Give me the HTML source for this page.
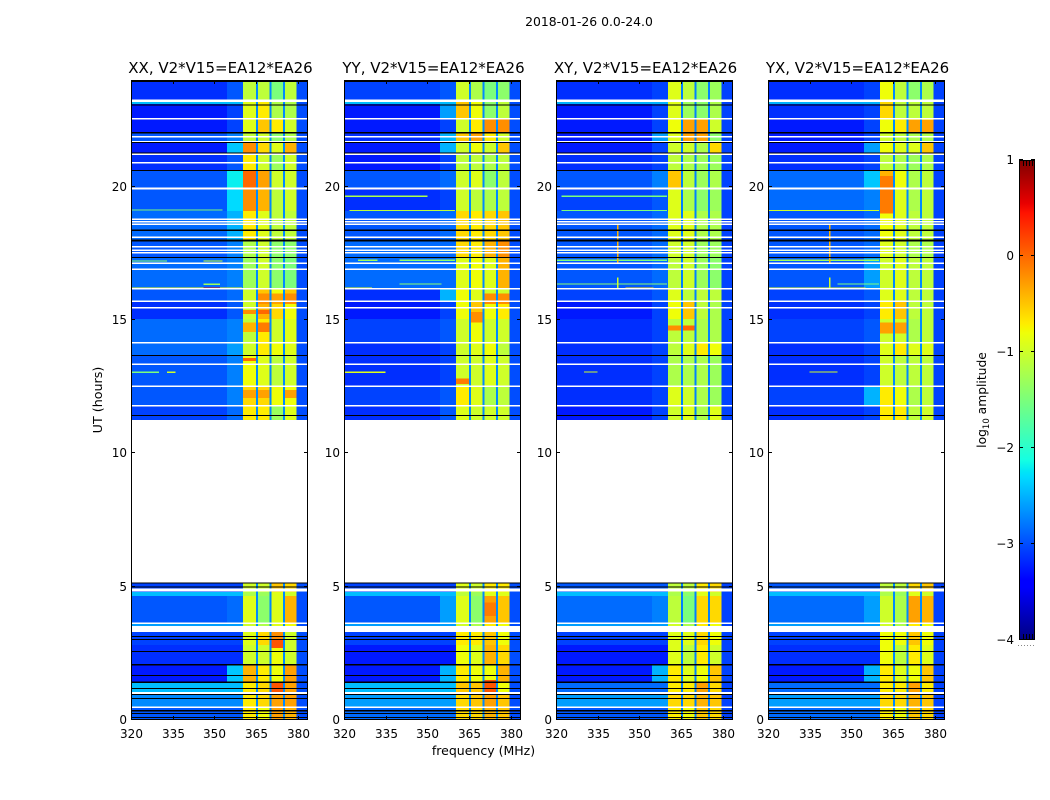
<!DOCTYPE html>
<html lang="en">
<head>
<meta charset="utf-8">
<title>2018-01-26 0.0-24.0</title>
<style>
html,body{margin:0;padding:0;background:#fff;width:1050px;height:800px;overflow:hidden}
svg{display:block;font-family:"DejaVu Sans","Liberation Sans",sans-serif;fill:#000}
</style>
</head>
<body>
<svg id="fig" xmlns="http://www.w3.org/2000/svg" width="1050" height="800" viewBox="0 0 1050 800">
<text x="589" y="26" text-anchor="middle" font-size="12.4">2018-01-26 0.0-24.0</text>
<text x="483.5" y="755" text-anchor="middle" font-size="12.5">frequency (MHz)</text>
<text transform="translate(102,400) rotate(-90)" text-anchor="middle" font-size="12.7">UT (hours)</text>
<text transform="translate(986,400) rotate(-90)" text-anchor="middle" font-size="12.3">log<tspan font-size="8.5" dy="3">10</tspan><tspan dy="-3"> amplitude</tspan></text>
</svg>
<script>
// Panel titles and axes
const panelTitles = ["XX, V2*V15=EA12*EA26", "YY, V2*V15=EA12*EA26", "XY, V2*V15=EA12*EA26", "YX, V2*V15=EA12*EA26"];
const xTickValues = [320, 335, 350, 365, 380];
const yTickValues = [0, 5, 10, 15, 20];
const colorbarTicks = [1, 0, -1, -2, -3, -4];
const freqMin = 320, freqMax = 383.67, hourMin = 0, hourMax = 24, levelMin = -4, levelMax = 1;

// Heatmap rows in UT hours (top edge, bottom edge)
const rowTops = [24, 23.25, 23.10, 22.54, 22.01, 21.68, 21.23, 20.63, 19.91, 19.09, 17.96, 17.33, 16.16, 15.68, 15.04, 14.14, 13.65, 12.49, 11.78,
  5.14, 4.80, 4.65, 3.64, 3.30, 2.81, 2.06, 1.43, 1.01, 0.49];
const rowBottoms = [23.25, 23.10, 22.54, 22.01, 21.68, 21.23, 20.63, 19.91, 19.09, 17.96, 17.33, 16.16, 15.68, 15.04, 14.14, 13.65, 12.49, 11.78, 11.25,
  4.80, 4.65, 3.64, 3.30, 2.81, 2.06, 1.43, 1.01, 0.49, 0];

// Frequency columns in MHz: background, glow, bands A/B/C/D and the gaps between them, upper edge
const bgFreqs = [320, 354.5];
const glowFreqs = [354.5, 360.3];
const bandFreqs = [[360.3, 364.9], [365.6, 369.8], [370.5, 374.7], [375.4, 379.5]];
const gapFreqs = [[364.9, 365.6], [369.8, 370.5], [374.7, 375.4]];
const edgeFreqs = [379.5, 383.67];
const gapLevels = [-2.7, -2.7, -2.75, -2.7];
const edgeLevels = [-3.0, -3.0, -3.05, -3.05];

// log10 amplitude per row: [background, glow, A, B, C, D]
const xxLevels = [
[-3.15,-2.95,-1.1,-1.1,-1.5,-1.1],[-2.45,-2.45,-0.9,-0.7,-1.2,-1.2],[-3.25,-3.05,-0.9,-0.7,-1.2,-1.2],[-3.25,-3.05,-0.9,-0.5,-0.7,-1.0],
[-2.95,-2.75,-1.1,-1.0,-1.4,-1.2],[-3.25,-2.4,-0.2,-0.6,-0.9,-0.4],[-3.15,-2.95,-0.7,-1.0,-1.3,-1.0],[-2.95,-2.2,0.0,-0.3,-1.0,-1.0],
[-2.95,-2.3,-0.2,-0.4,-1.1,-1.0],[-2.85,-2.5,-0.7,-0.9,-1.1,-1.1],[-2.95,-2.75,-1.2,-1.0,-1.4,-1.4],[-2.85,-2.75,-1.3,-1.0,-1.4,-1.5],
[-2.95,-2.85,-1.0,-0.5,-0.8,-0.5],[-3.15,-2.95,-1.0,-0.4,-0.6,-0.8],[-2.85,-2.75,-1.1,-0.7,-1.0,-0.9],[-2.85,-2.6,-1.0,-0.7,-0.8,-0.9],
[-2.95,-2.75,-0.8,-0.9,-1.1,-1.0],[-2.95,-2.75,-0.6,-0.6,-0.8,-0.8],[-3.05,-2.85,-0.7,-0.7,-1.3,-0.9],
[-3.05,-3.05,-1.0,-1.0,-0.5,-0.6],[-2.45,-2.45,-1.2,-1.3,-0.9,-1.0],[-2.95,-2.85,-0.9,-1.4,-0.9,-0.4],[-2.6,-2.6,-1.0,-1.2,-0.9,-0.8],
[-3.05,-3.05,-0.9,-0.6,-0.2,-1.0],[-3.15,-3.15,-1.0,-1.0,-0.8,-1.0],[-3.25,-2.4,-0.4,-0.7,-0.8,-0.3],[-2.45,-2.45,-0.7,-0.6,0.1,-0.3],
[-2.7,-2.7,-0.7,-0.6,-0.3,-0.3],[-2.95,-2.95,-0.7,-0.8,-0.3,-0.4]];
const yyLevels = [
[-3.05,-2.95,-1.0,-1.2,-1.5,-1.4],[-2.45,-2.45,-0.5,-0.8,-1.4,-1.1],[-3.25,-2.6,-0.5,-0.8,-1.4,-1.1],[-3.25,-3.05,-1.0,-0.7,-0.2,-0.2],
[-3.15,-2.5,-0.5,-0.3,-0.7,-1.0],[-3.25,-2.5,-1.0,-0.8,-1.0,-0.5],[-3.25,-3.05,-1.1,-1.1,-1.2,-1.1],[-2.95,-2.85,-1.0,-0.9,-1.4,-1.1],
[-3.15,-3.05,-1.0,-1.1,-1.2,-1.1],[-2.95,-2.85,-0.6,-0.7,-0.6,-0.5],[-2.85,-2.85,-0.6,-0.7,-0.4,-0.2],[-2.85,-2.85,-0.9,-0.8,-0.9,-0.4],
[-3.15,-2.5,-0.8,-0.9,-1.0,-1.0],[-3.25,-3.05,-0.8,-0.5,-0.8,-0.7],[-3.05,-2.95,-1.0,-0.8,-1.0,-1.0],[-3.15,-3.05,-1.0,-0.9,-0.8,-1.1],
[-3.15,-3.05,-1.0,-1.0,-0.9,-1.0],[-3.05,-2.95,-0.7,-0.9,-1.2,-1.1],[-3.15,-2.95,-0.9,-1.0,-1.0,-1.0],
[-3.05,-3.05,-0.9,-1.0,-0.7,-0.7],[-2.45,-2.45,-1.1,-1.3,-0.9,-0.9],[-2.95,-2.6,-0.9,-1.4,-0.3,-0.5],[-2.6,-2.6,-1.0,-1.2,-0.7,-0.8],
[-3.05,-3.05,-0.7,-0.7,-0.5,-0.8],[-3.25,-3.25,-0.8,-0.9,-0.4,-0.6],[-3.25,-2.5,-0.7,-0.8,-0.8,-0.4],[-2.45,-2.45,-0.5,-0.5,-0.2,-0.8],
[-2.6,-2.6,-0.6,-0.5,-0.3,-0.5],[-2.85,-2.85,-0.6,-0.6,-0.4,-0.5]];
const xyLevels = [
[-3.15,-3.05,-0.9,-1.1,-1.4,-1.3],[-2.5,-2.5,-0.9,-1.3,-1.4,-1.2],[-3.25,-3.05,-0.9,-1.3,-1.4,-1.2],[-3.25,-3.05,-0.8,-0.4,-0.5,-1.0],
[-3.25,-2.6,-0.9,-1.2,-1.4,-1.4],[-3.25,-3.05,-1.0,-1.0,-1.2,-0.6],[-3.15,-3.05,-1.1,-1.2,-1.3,-1.3],[-2.95,-2.75,-0.5,-1.1,-1.3,-1.2],
[-3.05,-2.95,-0.9,-1.2,-1.4,-1.3],[-2.95,-2.85,-0.9,-0.9,-1.2,-1.2],[-2.95,-2.85,-1.0,-1.0,-1.3,-1.3],[-2.95,-2.85,-1.1,-1.0,-1.3,-1.4],
[-3.05,-2.95,-0.9,-1.1,-1.1,-1.1],[-3.25,-3.05,-0.8,-0.5,-1.1,-1.2],[-3.15,-3.05,-1.1,-1.1,-1.2,-1.2],[-3.15,-3.05,-1.1,-0.9,-0.7,-0.8],
[-3.15,-3.05,-1.2,-1.2,-1.2,-1.3],[-3.15,-3.05,-0.9,-1.0,-1.2,-1.3],[-3.25,-3.05,-1.0,-0.9,-1.2,-0.9],
[-2.95,-2.95,-1.1,-1.1,-0.7,-0.6],[-2.45,-2.45,-1.2,-1.4,-0.9,-1.0],[-2.85,-2.75,-1.1,-1.5,-0.6,-0.6],[-2.6,-2.6,-1.0,-1.2,-0.7,-0.8],
[-3.05,-3.05,-0.9,-0.9,-0.6,-0.8],[-3.25,-3.25,-0.9,-1.1,-0.7,-1.0],[-3.25,-2.5,-0.7,-0.9,-0.8,-0.5],[-2.85,-2.85,-0.7,-0.7,-0.3,-0.6],
[-2.6,-2.6,-0.6,-0.6,-0.4,-0.5],[-2.95,-2.95,-0.7,-0.8,-0.5,-0.6]];
const yxLevels = [
[-3.15,-3.05,-0.8,-1.1,-1.4,-1.2],[-2.5,-2.5,-0.6,-1.1,-1.1,-1.1],[-3.15,-3.05,-0.6,-1.1,-1.1,-1.1],[-3.25,-3.05,-0.8,-0.7,-0.5,-0.6],
[-3.25,-3.05,-1.0,-1.1,-1.2,-1.2],[-3.25,-2.6,-0.8,-0.9,-0.9,-0.5],[-3.15,-3.05,-1.1,-1.2,-1.3,-1.2],[-2.85,-2.4,-0.4,-0.8,-1.2,-1.1],
[-2.85,-2.75,-0.6,-0.9,-1.2,-1.1],[-2.95,-2.85,-0.8,-0.9,-1.1,-1.1],[-2.95,-2.85,-0.9,-1.0,-1.2,-1.2],[-2.95,-2.6,-1.0,-0.9,-1.1,-1.1],
[-3.05,-2.95,-0.9,-0.9,-1.1,-1.1],[-3.15,-3.05,-0.7,-0.5,-1.1,-1.1],[-3.05,-2.95,-1.0,-1.0,-1.2,-1.1],[-3.15,-3.05,-0.9,-0.7,-0.9,-0.9],
[-3.15,-3.05,-1.0,-1.1,-1.1,-1.1],[-3.05,-2.5,-0.7,-0.8,-1.2,-1.1],[-3.15,-3.05,-0.7,-0.7,-1.1,-1.0],
[-2.95,-2.95,-1.1,-1.1,-0.6,-0.5],[-2.45,-2.45,-1.2,-1.3,-0.9,-1.0],[-2.85,-2.6,-1.0,-1.2,-0.3,-0.4],[-2.6,-2.6,-1.0,-1.2,-0.7,-0.8],
[-3.05,-3.05,-0.8,-0.8,-0.5,-0.8],[-3.15,-3.15,-0.8,-1.1,-0.7,-0.9],[-3.25,-2.5,-0.7,-0.9,-0.8,-0.5],[-2.85,-2.85,-0.7,-0.7,-0.3,-0.7],
[-2.6,-2.6,-0.6,-0.6,-0.4,-0.5],[-2.85,-2.85,-0.7,-0.8,-0.5,-0.6]];
const panelLevels = [xxLevels, yyLevels, xyLevels, yxLevels];

// Bright patches inside the bands: [band index, top hour, bottom hour, log10 amplitude]
const xxPatches = [[0,15.37,15.22,-0.2],[1,15.37,15.22,0.0],[1,16.0,15.6,-0.2],[2,16.0,15.6,-0.3],[3,16.0,15.6,-0.2],[1,14.9,14.55,-0.1],[0,14.9,14.55,-0.4],[0,13.57,13.46,0.0],[0,12.37,12.07,-0.3],[1,12.37,12.07,-0.3],[3,12.37,12.07,-0.3],[2,3.0,2.7,0.1]];
const yyPatches = [[2,16.0,15.6,-0.2],[3,16.0,15.6,-0.2],[1,15.3,14.9,-0.2],[0,12.8,12.6,-0.1],[2,4.4,3.9,-0.1],[2,1.5,1.0,0.1]];
const xyPatches = [[0,14.8,14.6,-0.2],[1,14.8,14.6,0.0],[1,22.5,21.7,-0.3],[2,22.5,21.7,-0.3]];
const yxPatches = [[0,20.4,19.0,-0.1],[0,14.9,14.5,-0.3],[1,14.9,14.5,-0.3],[2,22.5,22.0,-0.3],[3,22.5,22.0,-0.3]];
const panelPatches = [xxPatches, yyPatches, xyPatches, yxPatches];

// Narrow-band interference: [hour, start MHz, end MHz, log10 amplitude]
const xxRfi = [[19.12,320,353,-1.5],[17.22,320,333,-1.4],[17.22,346,353,-1.0],[16.34,346,352,-1.3],[16.19,320,360,-0.8],[16.19,346,352,0.5],[13.04,320,330,-1.5],[13.04,333,336,-1.0]];
const yyRfi = [[19.64,320,350,-1.2],[19.11,322,360,-1.1],[17.24,325,332,-1.3],[17.24,340,360,-1.4],[16.35,340,355,-1.4],[16.19,320,330,-0.8],[13.04,320,335,-0.9]];
const xyRfi = [[19.64,322,360,-1.5],[19.11,322,360,-1.5],[17.24,320,360,-1.5],[16.35,320,360,-1.4],[16.19,345,355,-0.6],[13.05,330,335,-1.0]];
const yxRfi = [[19.11,320,360,-1.0],[17.24,320,360,-1.3],[16.35,345,360,-1.5],[16.19,320,355,-0.9],[13.05,335,345,-1.0]];
const panelRfi = [xxRfi, yyRfi, xyRfi, yxRfi];

// Vertical spike: [MHz, top hour, bottom hour, log10 amplitude]
const xxSpikes = [];
const yySpikes = [];
const xySpikes = [[342.2,18.6,17.1,-0.4],[342.2,16.6,16.2,-1.0]];
const yxSpikes = [[342.2,18.6,17.1,-0.4],[342.2,16.6,16.2,-1.0]];
const panelSpikes = [xxSpikes, yySpikes, xySpikes, yxSpikes];

// Rows with flagged data (white) and zeroed data (black): [top hour, bottom hour]
const flaggedHours = [[23.27,23.175],[22.575,22.52],[21.90,21.84],[21.71,21.66],[21.24,21.19],[20.925,20.87],[19.97,19.89],[18.81,18.75],[18.71,18.66],[18.62,18.56],[18.13,18.08],[17.775,17.72],[17.64,17.59],[17.55,17.49],[17.16,17.10],[16.93,16.88],[16.2,16.14],[15.73,15.68],[15.49,15.43],[14.175,14.12],[13.37,13.31],[12.54,12.49],[11.81,11.76],[4.93,4.82],[3.66,3.60],[3.525,3.30],[1.05,0.975],[0.51,0.45]];
const zeroedHours = [[23.96,23.93],[23.08,23.04],[22.05,22.0],[21.68,21.64],[21.28,21.24],[20.63,20.59],[18.39,18.34],[18.02,17.94],[17.36,17.33],[13.69,13.65],[11.44,11.40],[5.16,5.12],[5.01,4.97],[3.15,3.11],[3.04,3.0],[2.59,2.55],[2.10,2.04],[1.69,1.65],[1.44,1.39],[1.2,1.16],[0.975,0.94],[0.825,0.79],[0.375,0.32],[0.26,0.225],[0.11,0.075]];

// Layout
const panelLefts = [131, 344, 556, 768];
const panelWidth = 177, plotTop = 80, plotHeight = 640;
const NS = "http://www.w3.org/2000/svg";
const fig = document.getElementById("fig");

function y(h) { return plotTop + plotHeight * (hourMax - h) / (hourMax - hourMin); }
function x(f, p) { return panelLefts[p] + panelWidth * (f - freqMin) / (freqMax - freqMin); }
function lerp(stops, t) {
  for (let i = 1; i < stops.length; i++) {
    if (t <= stops[i][0]) {
      const a = stops[i - 1], b = stops[i];
      return a[1] + (b[1] - a[1]) * (t - a[0]) / (b[0] - a[0]);
    }
  }
  return stops[stops.length - 1][1];
}
const jetR = [[0,0],[0.35,0],[0.66,1],[0.89,1],[1,0.5]];
const jetG = [[0,0],[0.125,0],[0.375,1],[0.64,1],[0.91,0],[1,0]];
const jetB = [[0,0.5],[0.11,1],[0.34,1],[0.65,0],[1,0]];
function jet(t) {
  t = Math.max(0, Math.min(1, t));
  return "rgb(" + Math.round(lerp(jetR, t) * 255) + "," + Math.round(lerp(jetG, t) * 255) + "," + Math.round(lerp(jetB, t) * 255) + ")";
}
function color(v) { return jet((v - levelMin) / (levelMax - levelMin)); }
function make(tag, attrs, parent) {
  const el = document.createElementNS(NS, tag);
  for (const k in attrs) el.setAttribute(k, attrs[k]);
  parent.appendChild(el);
  return el;
}
function cell(parent, p, f0, f1, h0, h1, fill) {
  const px0 = x(f0, p), px1 = x(f1, p), py0 = y(h0), py1 = y(h1);
  return make("rect", { x: px0.toFixed(2), y: py0.toFixed(2), width: Math.max(px1 - px0, 0.6).toFixed(2), height: Math.max(py1 - py0, 0.6).toFixed(2), fill: fill, "shape-rendering": "crispEdges" }, parent);
}

panelTitles.forEach(function (title, p) {
  const g = make("g", {}, fig);
  
  
  const cells = make("g", {}, g);
  
  
  panelLevels[p].forEach(function (row, r) {
    const t = rowTops[r], b = rowBottoms[r];
    cell(cells, p, bgFreqs[0], bgFreqs[1], t, b, color(row[0]));
    cell(cells, p, glowFreqs[0], glowFreqs[1], t, b, color(row[1]));
    bandFreqs.forEach(function (fr, i) { cell(cells, p, fr[0], fr[1], t, b, color(row[2 + i])); });
    cell(cells, p, edgeFreqs[0], edgeFreqs[1], t, b, color(edgeLevels[p]));
  });
  panelPatches[p].forEach(function (d) {
    const m = cell(cells, p, bandFreqs[d[0]][0], bandFreqs[d[0]][1], d[1], d[2], color(d[3]));
    
    
  });
  panelLevels[p].forEach(function (row, r) {
    gapFreqs.forEach(function (fr) {
      const m = cell(cells, p, fr[0], fr[1], rowTops[r], rowBottoms[r], color(gapLevels[p]));
      
      
    });
  });
  panelRfi[p].forEach(function (d) {
    const m = cell(cells, p, d[1], d[2], d[0] + 0.02, d[0] - 0.02, color(d[3]));
    
    
  });
  panelSpikes[p].forEach(function (d) {
    const m = cell(cells, p, d[0] - 0.2, d[0] + 0.2, d[1], d[2], color(d[3]));
    
    
  });
  flaggedHours.forEach(function (d) {
    const m = cell(cells, p, freqMin, freqMax, d[0], d[1], "#fff");
    
    
  });
  zeroedHours.forEach(function (d) {
    const m = cell(cells, p, freqMin, freqMax, d[0], d[1], "#000");
    
    
  });

  const left = panelLefts[p], right = left + panelWidth;
  const frame = make("rect", { x: left + 0.5, y: plotTop + 0.5, width: panelWidth - 1, height: plotHeight - 1, fill: "none", stroke: "#000", "stroke-width": 1 }, g);
  
  

  const titleEl = make("text", { x: left + panelWidth / 2 + 1, y: 73, "text-anchor": "middle", "font-size": 15 }, g);
  titleEl.textContent = title;
  
  

  xTickValues.forEach(function (v) {
    const px = Math.round(x(v, p)) + 0.5;
    const tick = make("path", { d: "M" + px + " " + (plotTop + plotHeight) + "v-4M" + px + " " + plotTop + "v4", stroke: "#000", fill: "none", "stroke-width": 1 }, g);
    
    
    const lab = make("text", { x: px, y: 738, "text-anchor": "middle", "font-size": 12 }, g);
    lab.textContent = v;
    
    
  });
  yTickValues.forEach(function (v) {
    const py = Math.round(y(v)) - 0.5;
    const tick = make("path", { d: "M" + left + " " + py + "h4M" + right + " " + py + "h-4", stroke: "#000", fill: "none", "stroke-width": 1 }, g);
    
    
    const lab = make("text", { x: left - 4, y: py + 4.5, "text-anchor": "end", "font-size": 12 }, g);
    lab.textContent = v;
    
    
  });
});

// Colorbar
const cbLeft = 1019, cbWidth = 16, cbTop = 160, cbHeight = 480;
function cbY(v) { return cbTop + cbHeight * (levelMax - v) / (levelMax - levelMin); }
const cb = make("g", {}, fig);


const defs = make("defs", {}, cb);
const grad = make("linearGradient", { id: "jetGrad", x1: 0, y1: 1, x2: 0, y2: 0 }, defs);
[0, 0.11, 0.125, 0.34, 0.35, 0.375, 0.5, 0.64, 0.65, 0.66, 0.75, 0.89, 0.91, 1].forEach(function (t) {
  make("stop", { offset: t, "stop-color": jet(t) }, grad);
});
const cbRect = make("rect", { x: cbLeft, y: cbTop, width: cbWidth, height: cbHeight, fill: "url(#jetGrad)" }, cb);


const cbFrame = make("rect", { x: cbLeft + 0.5, y: cbTop + 0.5, width: cbWidth - 1, height: cbHeight - 1, fill: "none", stroke: "#000" }, cb);


colorbarTicks.forEach(function (v) {
  const py = Math.round(cbY(v)) - 0.5;
  const tick = make("path", { d: "M" + cbLeft + " " + py + "h4M" + (cbLeft + cbWidth) + " " + py + "h-4", stroke: "#000", fill: "none" }, cb);
  
  
  const lab = make("text", { x: cbLeft - 5, y: py + 4.5, "text-anchor": "end", "font-size": 12 }, cb);
  lab.textContent = v < 0 ? "\u2212" + Math.abs(v) : String(v);
  
  
});
const cbEndTicks = make("path", { d: "M1023.5 160v6M1026.5 160v6M1029.5 160v6M1032.5 160v6M1023.5 640v-6M1026.5 640v-6M1029.5 640v-6M1032.5 640v-6", stroke: "#000", fill: "none" }, cb);


const cbDots = make("path", { d: "M1018 645.5H1035", stroke: "#888", "stroke-dasharray": "1 2", fill: "none", "stroke-width": 1 }, cb);


</script>
</body>
</html>
